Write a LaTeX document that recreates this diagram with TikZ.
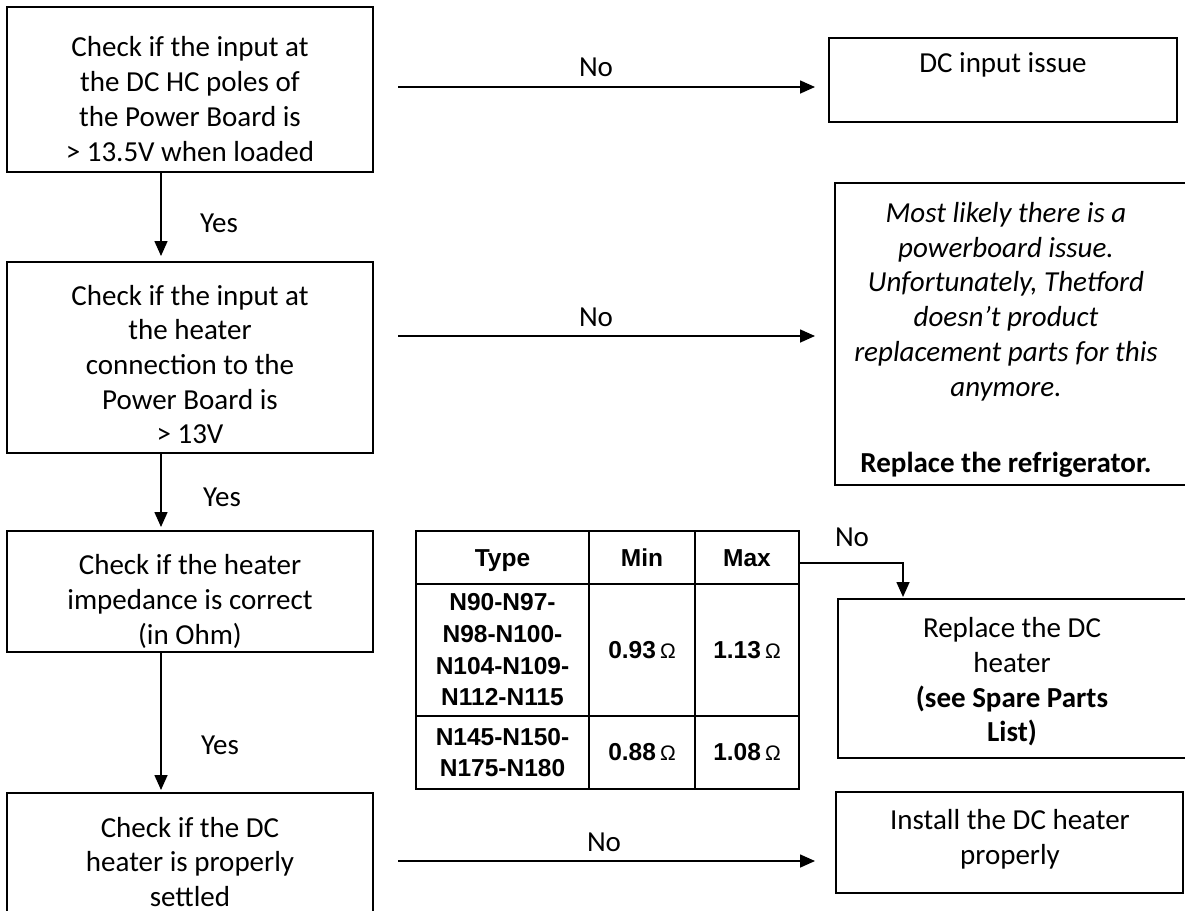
\documentclass[tikz,border=0pt]{standalone}
\usepackage{fontspec}
\setmainfont{Carlito}
\newfontfamily\arial{Liberation Sans}
\usetikzlibrary{arrows.meta}
\tikzset{
  box/.style={draw, line width=1.6pt, inner sep=0pt, outer sep=0pt},
  txt/.style={font=\fontsize{29}{34.7}\selectfont, align=center, inner sep=0pt},
  ttxt/.style={font=\arial\bfseries\fontsize{24.5}{31.7}\selectfont, align=center, inner sep=0pt},
  arr/.style={line width=1.6pt, -{Triangle[length=15pt,width=13pt]}},
  tline/.style={line width=2pt}
}
\newcommand{\ohm}{{\fontsize{21}{21}\selectfont\mdseries Ω}}
\begin{document}
\begin{tikzpicture}[x=1pt,y=-1pt]
\useasboundingbox (0,0) rectangle (1185,910);
% left column boxes
\node[box, minimum width=366pt, minimum height=165pt] (b1) at (190,89.5) {};
\node[box, minimum width=366pt, minimum height=191pt] (b2) at (190,357.5) {};
\node[box, minimum width=366pt, minimum height=121pt] (b3) at (190,591.5) {};
\node[box, minimum width=366pt, minimum height=137pt] (b4) at (190,861.5) {};
\node[txt] (t1) at (190,99) {Check if the input at\\the DC HC poles of\\the Power Board is\\> 13.5V when loaded};
\node[txt] (t2) at (190,364.5) {Check if the input at\\the heater\\connection to the\\Power Board is\\> 13V};
\node[txt] (t3) at (190,601.5) {Check if the heater\\impedance is correct\\(in Ohm)};
\node[txt] (t4) at (190,862) {Check if the DC\\heater is properly\\settled};
% right column boxes
\node[box, minimum width=348pt, minimum height=84pt] (dc) at (1003,80) {};
\node[txt] (tdc) at (1003,65) {DC input issue};
\node[box, minimum width=360pt, minimum height=302pt] (ml) at (1015,334) {};
\node[txt] (tml) at (1006,340) {\itshape Most likely there is a\\\itshape powerboard issue.\\\itshape Unfortunately, Thetford\\\itshape doesn’t product\\\itshape replacement parts for this\\\itshape anymore.\\[42pt]\textbf{Replace the refrigerator.}};
\node[box, minimum width=357pt, minimum height=159pt] (rep) at (1016.5,678.5) {};
\node[txt] (trep) at (1012,682) {Replace the DC\\heater\\\textbf{(see Spare Parts}\\\textbf{List)}};
\node[box, minimum width=347pt, minimum height=101pt] (ins) at (1009.5,842.5) {};
\node[txt] (tins) at (1010,839) {Install the DC heater\\properly};
% table
\node[draw, line width=2.4pt, inner sep=0pt, outer sep=0pt, minimum width=383pt, minimum height=258pt] (tbl) at (607.5,660) {};
\draw[tline] (589,531) -- (589,789);
\draw[tline] (695,531) -- (695,789);
\draw[tline] (416,584) -- (799,584);
\draw[tline] (416,716) -- (799,716);
\node[ttxt, anchor=base] (th1) at (502.5,566) {Type};
\node[ttxt, anchor=base] (th2) at (642,566) {Min};
\node[ttxt, anchor=base] (th3) at (747,566) {Max};
\node[ttxt] (r1a) at (502.5,650) {N90-N97-\\N98-N100-\\N104-N109-\\N112-N115};
\node[ttxt] (r1b) at (642,650) {0.93\,\ohm};
\node[ttxt] (r1c) at (747,650) {1.13\,\ohm};
\node[ttxt] (r2a) at (502.5,752.5) {N145-N150-\\N175-N180};
\node[ttxt] (r2b) at (642,752.5) {0.88\,\ohm};
\node[ttxt] (r2c) at (747,752.5) {1.08\,\ohm};
% vertical arrows
\coordinate (vx) at (161,0);
\draw[arr, shorten >=6pt] (b1.south -| vx) -- (b2.north -| vx);
\draw[arr, shorten >=4pt] (b2.south -| vx) -- (b3.north -| vx);
\draw[arr, shorten >=3pt] (b3.south -| vx) -- (b4.north -| vx);
\node[txt] (y1) at (219,223) {Yes};
\node[txt] (y2) at (222,497) {Yes};
\node[txt] (y3) at (220,745) {Yes};
% horizontal arrows
\coordinate (h1a) at (398,87); \coordinate (h1b) at (815,87);
\coordinate (h2a) at (398,336); \coordinate (h2b) at (815,336);
\coordinate (h3a) at (398,861); \coordinate (h3b) at (815,861);
\draw[arr] (h1a) -- (h1b);
\draw[arr] (h2a) -- (h2b);
\draw[arr] (h3a) -- (h3b);
\node[txt] (n1) at (596,67) {No};
\node[txt] (n2) at (596,317) {No};
\node[txt] (n3) at (604,842) {No};
% table to replace
\coordinate (nt) at (903,563);
\draw[arr, shorten >=2pt] (tbl.east |- nt) -- (nt) -- (rep.north -| nt);
\node[txt] (n4) at (852,537) {No};
\end{tikzpicture}
\end{document}
